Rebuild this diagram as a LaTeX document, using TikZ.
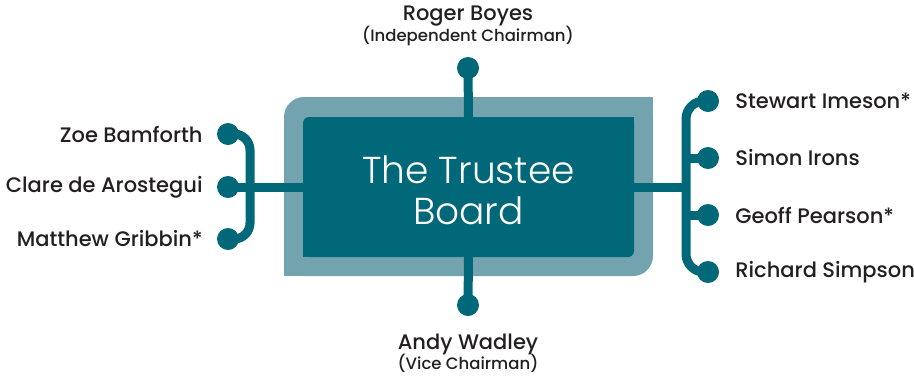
\documentclass[tikz,border=0pt]{standalone}
\usepackage{fontspec}
\setmainfont{Poppins}
\IfFontExistsTF{Poppins Medium}
  {\newfontfamily\namefont{Poppins Medium}}
  {\newfontfamily\namefont{Poppins}[FakeBold=1.2]}
\IfFontExistsTF{Poppins Light}
  {\newfontfamily\titlefont{Poppins Light}}
  {\newfontfamily\titlefont{Poppins}}
\usetikzlibrary{positioning}
\definecolor{boardteal}{RGB}{0,104,120}
\definecolor{frameteal}{RGB}{116,163,176}
\definecolor{nametext}{RGB}{35,31,32}

\begin{document}
\begin{tikzpicture}[
    x=1pt, y=-1pt,
    board/.style={fill=boardteal, rounded corners=6pt, minimum width=331pt, minimum height=140pt, align=center, text=white, font=\titlefont\fontsize{37.5}{41}\selectfont},
    dot/.style={circle, fill=boardteal, minimum size=22pt, inner sep=0pt},
    link/.style={draw=boardteal, line width=9pt},
    person/.style={text=nametext, font=\namefont\fontsize{21}{22}\selectfont, inner sep=0pt},
    role/.style={person, align=center}
]
    \useasboundingbox (0,0) rectangle (914,376);

    % outer frame, two corners rounded
    \fill[frameteal, rounded corners=20pt] (284,97) rectangle (653,276);
    \fill[frameteal] (284,200) rectangle (400,276);
    \fill[frameteal] (500,97) rectangle (653,180);
    \fill[boardteal] (303,200) rectangle (400,257);
    \fill[boardteal] (500,117) rectangle (634,180);
    \node[board] (board) at (468.5,187) {\rule{0pt}{34pt}The Trustee\\Board};

    \node[dot] (top) at (468,68) {};
    \node[dot] (bottom) at (468,305) {};
    \node[dot] (zoe) at (228,134) {};
    \node[dot] (clare) at (228,187) {};
    \node[dot] (matthew) at (228,239) {};
    \node[dot] (stewart) at (708,101) {};
    \node[dot] (simon) at (708,158) {};
    \node[dot] (geoff) at (708,215) {};
    \node[dot] (richard) at (708,272) {};

    \coordinate (lbend) at (250,187);
    \coordinate (rbend) at (686,187);

    \draw[link] (top.center) -- (board.north);
    \draw[link] (bottom.center) -- (board.south);

    % left bracket
    \draw[link] (clare.center) -- (board.west);
    \draw[link, rounded corners=16pt] (zoe.center) -- (zoe -| lbend) -- (matthew -| lbend) -- (matthew.center);

    % right bracket
    \draw[link] (board.east) -- (rbend);
    \draw[link, rounded corners=18pt] (stewart.center) -- (stewart -| rbend) -- (richard -| rbend) -- (richard.center);
    \draw[link] (simon.center) -- (simon -| rbend);
    \draw[link] (geoff.center) -- (geoff -| rbend);

    \node[role, above=11pt of top] (chair) {Roger Boyes\\[-1pt]{\fontsize{16.5}{16}\selectfont(Independent Chairman)}};
    \node[role, below=18pt of bottom] (vice) {Andy Wadley\\[-2pt]{\fontsize{16.5}{16}\selectfont(Vice Chairman)}};

    \node[person, left=14pt of zoe] (zoename) {Zoe Bamforth};
    \node[person, left=14pt of clare] (clarename) {Clare de Arostegui};
    \node[person, left=14pt of matthew] (matthewname) {Matthew Gribbin*};
    \node[person, right=16pt of stewart] (stewartname) {Stewart Imeson*};
    \node[person, right=16pt of simon] (simonname) {Simon Irons};
    \node[person, right=16pt of geoff] (geoffname) {Geoff Pearson*};
    \node[person, right=16pt of richard] (richardname) {Richard Simpson};
\end{tikzpicture}
\end{document}
